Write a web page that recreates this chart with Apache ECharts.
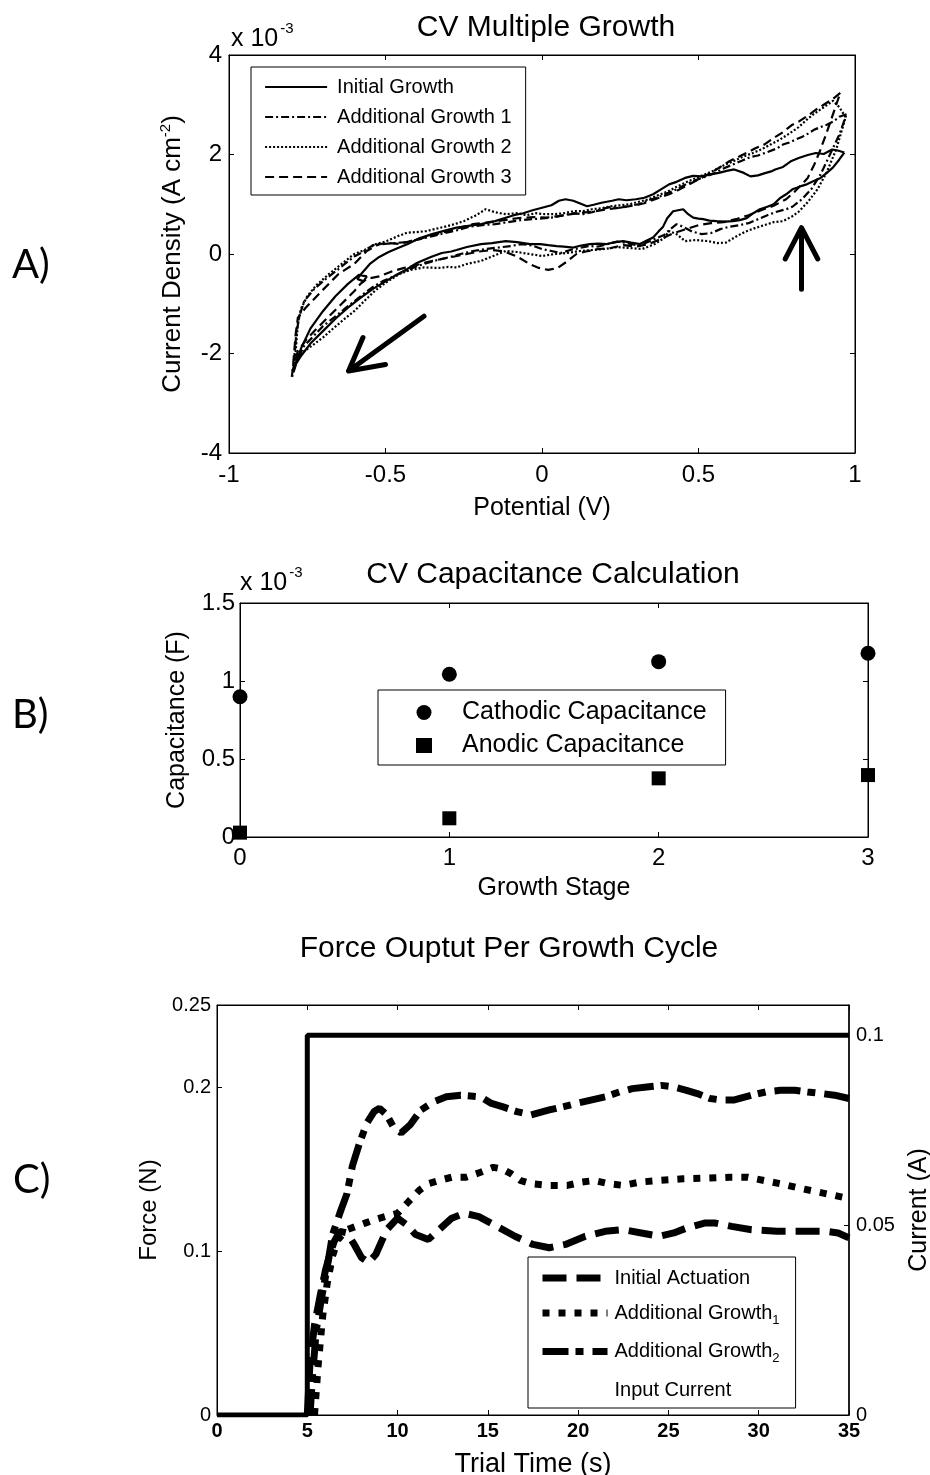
<!DOCTYPE html>
<html><head><meta charset="utf-8">
<script src="https://cdn.jsdelivr.net/npm/echarts@6/dist/echarts.min.js"></script>
<style>html,body{margin:0;padding:0;background:#fff}#c{width:930px;height:1475px}</style>
</head><body><div id="c"></div>
<script>
// ---------- Panel A: CV loops, [potential V, current density x1e-3 A/cm2] ----------
const cvInitialGrowth = [
[0.966,2.04],[0.945,2.08],[0.927,2.10],[0.90,2.01],[0.875,2.03],[0.849,1.99],[0.82,1.93],[0.797,1.87],[0.77,1.75],[0.745,1.70],[0.732,1.66],[0.71,1.62],[0.69,1.58],[0.666,1.56],[0.645,1.63],[0.614,1.70],[0.59,1.67],[0.565,1.63],[0.536,1.60],[0.51,1.56],[0.483,1.57],[0.457,1.53],[0.43,1.45],[0.406,1.40],[0.38,1.30],[0.355,1.20],[0.327,1.13],[0.30,1.10],[0.27,1.08],[0.245,1.10],[0.224,1.07],[0.19,1.03],[0.165,0.99],[0.144,0.96],[0.12,1.02],[0.10,1.07],[0.075,1.10],[0.054,1.07],[0.03,0.98],[0.0,0.93],[-0.03,0.88],[-0.06,0.82],[-0.09,0.78],[-0.116,0.73],[-0.15,0.66],[-0.195,0.60],[-0.23,0.57],[-0.273,0.53],[-0.31,0.47],[-0.351,0.40],[-0.39,0.32],[-0.429,0.20],[-0.46,0.12],[-0.49,0.04],[-0.52,-0.06],[-0.55,-0.20],[-0.575,-0.38],[-0.59,-0.50],[-0.57,-0.55],[-0.56,-0.45],[-0.585,-0.42],[-0.62,-0.60],[-0.66,-0.85],[-0.70,-1.15],[-0.74,-1.50],[-0.77,-1.90],[-0.79,-2.25],
[-0.77,-2.05],[-0.74,-1.80],[-0.70,-1.55],[-0.66,-1.30],[-0.62,-1.08],[-0.58,-0.88],[-0.54,-0.70],[-0.50,-0.55],[-0.46,-0.40],[-0.43,-0.30],[-0.40,-0.18],[-0.37,-0.10],[-0.351,-0.05],[-0.32,0.02],[-0.29,0.05],[-0.273,0.08],[-0.24,0.14],[-0.195,0.20],[-0.16,0.22],[-0.116,0.26],[-0.08,0.24],[-0.038,0.20],[-0.006,0.20],[0.02,0.18],[0.047,0.16],[0.07,0.15],[0.10,0.13],[0.125,0.17],[0.153,0.20],[0.18,0.21],[0.207,0.20],[0.235,0.24],[0.259,0.26],[0.285,0.23],[0.313,0.20],[0.335,0.27],[0.355,0.33],[0.372,0.45],[0.387,0.55],[0.40,0.72],[0.419,0.86],[0.435,0.88],[0.451,0.90],[0.467,0.80],[0.483,0.73],[0.50,0.71],[0.515,0.70],[0.535,0.67],[0.558,0.66],[0.585,0.65],[0.61,0.66],[0.632,0.68],[0.654,0.72],[0.675,0.82],[0.696,0.90],[0.72,0.95],[0.74,1.00],[0.76,1.12],[0.78,1.20],[0.80,1.30],[0.814,1.33],[0.83,1.37],[0.846,1.40],[0.87,1.47],[0.89,1.53],[0.91,1.63],[0.93,1.74],[0.95,1.90],[0.966,2.04]];
const cvAdditional1 = [
[0.973,2.81],[0.95,2.76],[0.93,2.66],[0.91,2.60],[0.89,2.55],[0.87,2.50],[0.85,2.42],[0.83,2.35],[0.81,2.30],[0.79,2.24],[0.77,2.20],[0.75,2.12],[0.72,2.05],[0.69,1.98],[0.666,1.95],[0.64,1.88],[0.61,1.80],[0.58,1.72],[0.55,1.62],[0.52,1.55],[0.49,1.48],[0.46,1.40],[0.43,1.30],[0.40,1.22],[0.37,1.14],[0.34,1.08],[0.31,1.00],[0.28,0.97],[0.25,0.93],[0.22,0.95],[0.19,0.90],[0.16,0.84],[0.13,0.80],[0.10,0.82],[0.07,0.78],[0.04,0.74],[0.01,0.72],[-0.03,0.70],[-0.07,0.68],[-0.11,0.64],[-0.15,0.60],[-0.19,0.58],[-0.23,0.55],[-0.27,0.48],[-0.31,0.42],[-0.35,0.36],[-0.39,0.30],[-0.43,0.24],[-0.47,0.22],[-0.51,0.20],[-0.54,0.18],[-0.57,0.05],[-0.60,-0.05],[-0.63,-0.20],[-0.66,-0.35],[-0.70,-0.55],[-0.73,-0.72],[-0.76,-0.95],[-0.775,-1.25],[-0.785,-1.60],[-0.79,-2.00],[-0.80,-2.50],
[-0.78,-2.10],[-0.76,-1.85],[-0.73,-1.65],[-0.70,-1.45],[-0.665,-1.28],[-0.63,-1.10],[-0.60,-0.95],[-0.57,-0.80],[-0.54,-0.66],[-0.51,-0.55],[-0.47,-0.44],[-0.44,-0.35],[-0.41,-0.27],[-0.377,-0.20],[-0.34,-0.13],[-0.30,-0.07],[-0.26,0.00],[-0.22,0.06],[-0.18,0.10],[-0.14,0.13],[-0.10,0.16],[-0.064,0.20],[-0.03,0.17],[0.0,0.10],[0.03,0.06],[0.06,0.02],[0.09,0.08],[0.12,0.12],[0.15,0.16],[0.18,0.15],[0.21,0.20],[0.24,0.25],[0.27,0.22],[0.30,0.18],[0.33,0.22],[0.36,0.30],[0.39,0.38],[0.41,0.50],[0.43,0.60],[0.45,0.55],[0.48,0.45],[0.51,0.40],[0.54,0.42],[0.57,0.50],[0.60,0.55],[0.63,0.58],[0.66,0.62],[0.69,0.70],[0.72,0.78],[0.75,0.85],[0.78,0.90],[0.80,0.95],[0.83,1.10],[0.86,1.30],[0.89,1.60],[0.92,2.00],[0.95,2.40],[0.973,2.81]];
const cvAdditional2 = [
[0.97,2.75],[0.95,2.95],[0.93,3.08],[0.90,2.95],[0.87,2.82],[0.846,2.70],[0.82,2.55],[0.79,2.42],[0.76,2.30],[0.73,2.20],[0.70,2.10],[0.67,2.02],[0.64,1.95],[0.61,1.86],[0.58,1.78],[0.55,1.68],[0.52,1.60],[0.49,1.52],[0.46,1.44],[0.43,1.35],[0.40,1.25],[0.37,1.18],[0.34,1.10],[0.31,1.05],[0.28,1.00],[0.25,0.98],[0.22,0.96],[0.19,0.92],[0.16,0.90],[0.13,0.86],[0.10,0.86],[0.07,0.82],[0.04,0.80],[0.01,0.80],[-0.02,0.82],[-0.05,0.78],[-0.08,0.82],[-0.116,0.80],[-0.15,0.84],[-0.18,0.90],[-0.21,0.78],[-0.25,0.66],[-0.29,0.58],[-0.33,0.52],[-0.37,0.46],[-0.40,0.44],[-0.43,0.43],[-0.46,0.36],[-0.50,0.25],[-0.53,0.20],[-0.56,0.10],[-0.60,0.00],[-0.64,-0.20],[-0.68,-0.40],[-0.72,-0.62],[-0.75,-0.85],[-0.77,-1.10],[-0.78,-1.40],[-0.785,-1.80],[-0.79,-2.20],
[-0.77,-2.00],[-0.728,-1.81],[-0.70,-1.68],[-0.664,-1.48],[-0.63,-1.30],[-0.60,-1.15],[-0.57,-0.96],[-0.534,-0.74],[-0.50,-0.58],[-0.455,-0.40],[-0.42,-0.32],[-0.377,-0.27],[-0.33,-0.28],[-0.30,-0.26],[-0.273,-0.27],[-0.24,-0.20],[-0.195,-0.14],[-0.16,-0.05],[-0.116,0.06],[-0.08,0.04],[-0.04,0.00],[0.0,-0.04],[0.04,0.00],[0.08,0.02],[0.12,0.06],[0.16,0.08],[0.20,0.10],[0.24,0.14],[0.28,0.12],[0.32,0.10],[0.36,0.20],[0.39,0.32],[0.406,0.46],[0.43,0.40],[0.457,0.26],[0.49,0.28],[0.53,0.26],[0.56,0.22],[0.588,0.23],[0.62,0.35],[0.65,0.45],[0.68,0.52],[0.71,0.58],[0.74,0.64],[0.77,0.66],[0.80,0.76],[0.82,0.85],[0.85,1.05],[0.88,1.30],[0.91,1.65],[0.94,2.10],[0.97,2.75]];
const cvAdditional3 = [
[0.953,3.24],[0.93,3.12],[0.90,3.00],[0.875,2.90],[0.849,2.78],[0.82,2.66],[0.80,2.60],[0.77,2.45],[0.74,2.33],[0.71,2.20],[0.68,2.12],[0.666,2.07],[0.63,1.96],[0.60,1.87],[0.57,1.75],[0.536,1.62],[0.50,1.50],[0.47,1.40],[0.44,1.30],[0.406,1.20],[0.37,1.12],[0.327,1.02],[0.29,0.97],[0.249,0.93],[0.21,0.90],[0.171,0.86],[0.13,0.83],[0.093,0.80],[0.05,0.76],[0.014,0.73],[-0.025,0.74],[-0.064,0.73],[-0.10,0.70],[-0.142,0.66],[-0.18,0.63],[-0.22,0.60],[-0.26,0.53],[-0.298,0.46],[-0.34,0.40],[-0.377,0.33],[-0.42,0.26],[-0.455,0.20],[-0.49,0.22],[-0.52,0.20],[-0.56,0.06],[-0.60,-0.20],[-0.65,-0.40],[-0.703,-0.74],[-0.755,-1.08],[-0.78,-1.28],[-0.787,-1.61],[-0.794,-2.15],[-0.797,-2.35],
[-0.78,-1.95],[-0.75,-1.70],[-0.72,-1.50],[-0.68,-1.25],[-0.64,-1.00],[-0.60,-0.75],[-0.58,-0.60],[-0.56,-0.50],[-0.52,-0.45],[-0.48,-0.35],[-0.44,-0.28],[-0.40,-0.22],[-0.36,-0.15],[-0.32,-0.10],[-0.28,-0.05],[-0.24,0.00],[-0.20,0.05],[-0.16,0.08],[-0.12,0.05],[-0.08,-0.05],[-0.04,-0.20],[-0.01,-0.28],[0.02,-0.32],[0.05,-0.28],[0.08,-0.15],[0.11,0.00],[0.14,0.05],[0.18,0.10],[0.22,0.12],[0.26,0.18],[0.30,0.15],[0.34,0.20],[0.38,0.30],[0.42,0.42],[0.46,0.50],[0.50,0.58],[0.54,0.62],[0.58,0.64],[0.62,0.70],[0.66,0.78],[0.70,0.88],[0.74,0.97],[0.78,1.10],[0.81,1.27],[0.83,1.40],[0.849,1.53],[0.87,1.80],[0.888,2.07],[0.91,2.45],[0.926,2.74],[0.94,3.00],[0.953,3.24]];
// annotation arrows (data coordinates)
const arrowDown = [[-0.377,-1.25],[-0.618,-2.35],null,[-0.572,-1.68],[-0.618,-2.35],[-0.50,-2.22]];
const arrowUp = [[0.829,-0.71],[0.829,0.53],null,[0.777,-0.10],[0.829,0.53],[0.881,-0.10]];

// ---------- Panel B: capacitance (x1e-3 F) ----------
const growthStages = [0, 1, 2, 3];
const cathodicCap = [0.899, 1.043, 1.124, 1.178];
const anodicCap = [0.028, 0.120, 0.376, 0.397];

// ---------- Panel C: force (N) vs time (s) ----------
const initialActuation = [[5.0,0],[5.15,0.032],[5.4,0.055],[5.7,0.072],[6.0,0.088],[6.25,0.098],[6.5,0.106],[6.8,0.112],[7.2,0.111],[7.6,0.104],[8.0,0.096],[8.4,0.093],[8.8,0.098],[9.4,0.113],[10.0,0.120],[10.5,0.116],[11.0,0.110],[11.7,0.107],[12.3,0.113],[13.0,0.120],[13.7,0.123],[14.5,0.121],[15.5,0.115],[16.5,0.109],[17.5,0.104],[18.4,0.102],[19.3,0.104],[20.4,0.109],[21.5,0.112],[22.5,0.113],[23.5,0.111],[24.5,0.109],[25.3,0.111],[26.0,0.114],[27.0,0.117],[27.6,0.117],[28.5,0.115],[29.6,0.113],[31.0,0.112],[32.5,0.112],[33.7,0.112],[34.4,0.111],[35.0,0.108]];
const additionalGrowth1 = [[5.4,0],[5.6,0.03],[5.85,0.06],[6.1,0.08],[6.4,0.097],[6.7,0.107],[7.2,0.113],[7.7,0.115],[8.2,0.117],[8.7,0.119],[9.3,0.121],[10.0,0.123],[10.6,0.130],[11.2,0.137],[11.7,0.141],[12.3,0.143],[13.0,0.145],[13.8,0.145],[14.6,0.148],[15.3,0.151],[15.8,0.150],[16.3,0.147],[16.8,0.143],[17.4,0.141],[18.4,0.140],[19.4,0.140],[20.2,0.142],[20.9,0.143],[21.7,0.141],[22.5,0.140],[23.4,0.142],[24.5,0.143],[25.8,0.144],[27.3,0.1445],[28.4,0.145],[29.4,0.145],[30.3,0.143],[31.2,0.141],[32.4,0.138],[33.7,0.135],[35.0,0.132]];
const additionalGrowth2 = [[5.15,0],[5.3,0.025],[5.5,0.052],[5.8,0.072],[6.07,0.088],[6.4,0.110],[6.8,0.123],[7.2,0.135],[7.5,0.152],[7.9,0.166],[8.3,0.178],[8.7,0.185],[9.0,0.187],[9.4,0.183],[9.8,0.175],[10.2,0.172],[10.7,0.177],[11.3,0.186],[12.0,0.191],[12.7,0.194],[13.5,0.195],[14.6,0.194],[15.2,0.190],[15.8,0.188],[16.6,0.185],[17.4,0.183],[18.4,0.186],[19.2,0.188],[19.9,0.190],[20.7,0.192],[21.5,0.194],[22.3,0.197],[23.0,0.199],[23.8,0.200],[24.6,0.201],[25.3,0.200],[26.0,0.198],[26.6,0.196],[27.3,0.193],[28.0,0.192],[28.6,0.192],[29.6,0.195],[30.4,0.197],[31.2,0.198],[32.0,0.198],[32.7,0.197],[33.5,0.196],[34.2,0.195],[35.0,0.193]];
const currentTime = [0, 5, 5, 35];
const currentAmps = [0, 0, 0.1, 0.1];

// tick label sets
const forceTicks = [0, 0.1, 0.2, 0.25];
const currentTicks = [0, 0.05, 0.1];

const FONT = '"Liberation Sans", Arial, Helvetica, sans-serif';
const chart = echarts.init(document.getElementById('c'), null, {renderer: 'canvas'});

function fmt(v){ return String(Math.round(v*1000)/1000); }
function mainX(grid, min, max, interval, size, margin, name, nameGap, bold, nameSize){
  return {gridIndex: grid, type:'value', position:'bottom', min, max, interval,
    axisLine:{show:true, onZero:false, lineStyle:{color:'#000', width:1}},
    axisTick:{show:true, inside:true, length:5, lineStyle:{color:'#000'}},
    splitLine:{show:false},
    axisLabel:{color:'#000', fontSize:size, fontFamily:FONT, margin, fontWeight: bold?'bold':'normal', formatter: fmt},
    name, nameLocation:'middle', nameGap, nameTextStyle:{color:'#000', fontSize:nameSize, fontFamily:FONT}};
}
function mirrorX(grid, min, max, interval){
  return {gridIndex:grid, type:'value', position:'top', min, max, interval,
    axisLine:{show:true, onZero:false, lineStyle:{color:'#000', width:1}},
    axisTick:{show:true, inside:true, length:5, lineStyle:{color:'#000'}},
    axisLabel:{show:false}, splitLine:{show:false}};
}
function mirrorY(grid, min, max, interval){
  return {gridIndex:grid, type:'value', position:'right', min, max, interval,
    axisLine:{show:true, onZero:false, lineStyle:{color:'#000', width:1}},
    axisTick:{show:true, inside:true, length:5, lineStyle:{color:'#000'}},
    axisLabel:{show:false}, splitLine:{show:false}};
}

const supRich = {
  n:{fontSize:26, fontFamily:FONT, color:'#000'},
  s:{fontSize:15, fontFamily:FONT, color:'#000', verticalAlign:'bottom', padding:[0,0,15,0]}
};
const titleStyle = {fontSize:30, fontWeight:'normal', color:'#000', fontFamily:FONT};
const gridBase = {show:true, borderColor:'#000', borderWidth:1, backgroundColor:'transparent', outerBoundsMode:'none', containLabel:false};

const option = {
  backgroundColor:'#fff',
  animation:false,
  textStyle:{fontFamily:FONT},
  title:[
    {text:'CV Multiple Growth', left:541, top:8, textAlign:'center', textStyle:titleStyle},
    {text:'CV Capacitance Calculation', left:548, top:555, textAlign:'center', textStyle:titleStyle},
    {text:'Force Ouptut Per Growth Cycle', left:504, top:929, textAlign:'center', textStyle:titleStyle}
  ],
  grid:[
    Object.assign({left:229, top:55, width:626, height:398}, gridBase),
    Object.assign({left:240, top:603, width:628, height:234}, gridBase),
    Object.assign({left:217, top:1005, width:632, height:410}, gridBase)
  ],
  xAxis:[
    mainX(0, -1, 1, 0.5, 24, 10, 'Potential (V)', 43, false, 25),
    mirrorX(0, -1, 1, 0.5),
    mainX(1, 0, 3, 1, 24, 9, 'Growth Stage', 39, false, 25),
    mirrorX(1, 0, 3, 1),
    mainX(2, 0, 35, 5, 20, 6, 'Trial Time (s)', 36, true, 27),
    mirrorX(2, 0, 35, 5)
  ],
  yAxis:[
    {gridIndex:0, type:'value', min:-4, max:4, interval:2,
      axisLine:{show:true, onZero:false, lineStyle:{color:'#000'}},
      axisTick:{show:true, inside:true, length:5, lineStyle:{color:'#000'}},
      splitLine:{show:false},
      axisLabel:{color:'#000', fontSize:24, fontFamily:FONT, margin:7},
      name:'{n|Current Density (A cm}{s|-2}{n|)}', nameLocation:'middle', nameGap:41,
      nameTextStyle:{rich:supRich}},
    mirrorY(0, -4, 4, 2),
    {gridIndex:1, type:'value', min:0, max:1.5, interval:0.5,
      axisLine:{show:true, onZero:false, lineStyle:{color:'#000'}},
      axisTick:{show:true, inside:true, length:5, lineStyle:{color:'#000'}},
      splitLine:{show:false},
      axisLabel:{color:'#000', fontSize:24, fontFamily:FONT, margin:5, formatter: fmt},
      name:'Capacitance (F)', nameLocation:'middle', nameGap:50,
      nameTextStyle:{color:'#000', fontSize:25, fontFamily:FONT}},
    mirrorY(1, 0, 1.5, 0.5),
    {gridIndex:2, type:'value', min:0, max:0.25,
      axisLine:{show:true, onZero:false, lineStyle:{color:'#000'}},
      axisTick:{show:true, inside:true, length:5, lineStyle:{color:'#000'}, customValues: forceTicks},
      splitLine:{show:false},
      axisLabel:{color:'#000', fontSize:20, fontFamily:FONT, margin:6, customValues: forceTicks, formatter: fmt},
      name:'Force (N)', nameLocation:'middle', nameGap:30,
      nameTextStyle:{color:'#000', fontSize:24, fontFamily:FONT}},
    {gridIndex:2, type:'value', position:'right', min:0, max:0.108,
      axisLine:{show:true, onZero:false, lineStyle:{color:'#000', width:1.5}},
      axisTick:{show:true, inside:true, length:5, lineStyle:{color:'#000'}, customValues: currentTicks},
      splitLine:{show:false},
      axisLabel:{color:'#000', fontSize:20, fontFamily:FONT, margin:7, customValues: currentTicks, formatter: fmt},
      name:'Current (A)', nameLocation:'middle', nameGap:58,
      nameTextStyle:{color:'#000', fontSize:25, fontFamily:FONT}}
  ],
  legend:[
    {left:251, top:67, orient:'vertical', itemWidth:62, itemHeight:12, itemGap:10,
      padding:[10,14,8,13], borderColor:'#000', borderWidth:1, backgroundColor:'#fff',
      selectedMode:false,
      itemStyle:{opacity:0}, lineStyle:{width:'inherit'},
      textStyle:{fontSize:20, color:'#000', fontFamily:FONT, padding:[0,0,0,5]},
      data:['Initial Growth','Additional Growth 1','Additional Growth 2','Additional Growth 3']},
    {left:378, top:690, orient:'vertical', itemWidth:16, itemHeight:15, itemGap:8,
      padding:[10,19,7,38], borderColor:'#000', borderWidth:1, backgroundColor:'#fff',
      selectedMode:false,
      textStyle:{fontSize:25, color:'#000', fontFamily:FONT, padding:[0,0,0,25]},
      data:['Cathodic Capacitance','Anodic Capacitance']},
    {left:528, top:1257, orient:'vertical', itemWidth:65, itemHeight:14, itemGap:15,
      padding:[11,16,8,11], borderColor:'#000', borderWidth:1, backgroundColor:'#fff',
      selectedMode:false,
      itemStyle:{opacity:0}, lineStyle:{width:'inherit'},
      formatter: function(n){ return n.replace(/_(\d)/, '{sub|$1}'); },
      textStyle:{fontSize:20, color:'#000', fontFamily:FONT, padding:[0,0,0,2],
        rich:{sub:{fontSize:13, color:'#000', fontFamily:FONT, verticalAlign:'top', padding:[14,0,0,0]}}},
      data:['Initial Actuation','Additional Growth_1','Additional Growth_2',
        {name:'Input Current', lineStyle:{opacity:0}, itemStyle:{opacity:0}}]}
  ],
  graphic:[
    {type:'text', left:12, top:245, style:{text:'A)', font:'40px Lato, "Open Sans", sans-serif', fill:'#000'}},
    {type:'text', left:12, top:695, style:{text:'B)', font:'40px Lato, "Open Sans", sans-serif', fill:'#000'}},
    {type:'text', left:13, top:1160, style:{text:'C)', font:'40px Lato, "Open Sans", sans-serif', fill:'#000'}},
    {type:'text', left:231, top:21, style:{text:'{a|x 10}{b|-3}', rich:{
      a:{fontSize:25, fontFamily:FONT, fill:'#000', verticalAlign:'bottom'},
      b:{fontSize:15, fontFamily:FONT, fill:'#000', verticalAlign:'bottom', padding:[0,0,16,2]}}}},
    {type:'text', left:240, top:565, style:{text:'{a|x 10}{b|-3}', rich:{
      a:{fontSize:25, fontFamily:FONT, fill:'#000', verticalAlign:'bottom'},
      b:{fontSize:15, fontFamily:FONT, fill:'#000', verticalAlign:'bottom', padding:[0,0,16,2]}}}}
  ],
  series:[
    {name:'Initial Growth', type:'line', xAxisIndex:0, yAxisIndex:0, data:cvInitialGrowth, symbol:'none',
      lineStyle:{color:'#000', width:2.2, type:'solid'}, itemStyle:{color:'#000'}},
    {name:'Additional Growth 1', type:'line', xAxisIndex:0, yAxisIndex:0, data:cvAdditional1, symbol:'none',
      lineStyle:{color:'#000', width:2.2, type:[8,3,2,3]}, itemStyle:{color:'#000'}},
    {name:'Additional Growth 2', type:'line', xAxisIndex:0, yAxisIndex:0, data:cvAdditional2, symbol:'none',
      lineStyle:{color:'#000', width:2.2, type:[2,2]}, itemStyle:{color:'#000'}},
    {name:'Additional Growth 3', type:'line', xAxisIndex:0, yAxisIndex:0, data:cvAdditional3, symbol:'none',
      lineStyle:{color:'#000', width:2.2, type:[9,5]}, itemStyle:{color:'#000'}},
    {name:'arrowDown', type:'line', xAxisIndex:0, yAxisIndex:0, data:arrowDown, symbol:'none', connectNulls:false,
      lineStyle:{color:'#000', width:5, cap:'round', join:'round'}, silent:true},
    {name:'arrowUp', type:'line', xAxisIndex:0, yAxisIndex:0, data:arrowUp, symbol:'none', connectNulls:false,
      lineStyle:{color:'#000', width:5, cap:'round', join:'round'}, silent:true},

    {name:'Cathodic Capacitance', type:'scatter', xAxisIndex:2, yAxisIndex:2,
      data: growthStages.map((g,i)=>[g, cathodicCap[i]]), symbol:'circle', symbolSize:15, itemStyle:{color:'#000', opacity:1}},
    {name:'Anodic Capacitance', type:'scatter', xAxisIndex:2, yAxisIndex:2,
      data: growthStages.map((g,i)=>[g, anodicCap[i]]), symbol:'rect', symbolSize:14, itemStyle:{color:'#000', opacity:1}},

    {name:'Input Current', type:'line', xAxisIndex:4, yAxisIndex:5,
      data: currentTime.map((t,i)=>[t, currentAmps[i]]), symbol:'none',
      lineStyle:{color:'#000', width:5, type:'solid'}, itemStyle:{color:'#000'}, z:1},
    {name:'Initial Actuation', type:'line', xAxisIndex:4, yAxisIndex:4, data:initialActuation, symbol:'none',
      lineStyle:{color:'#000', width:7, type:[24,10], cap:'butt'}, itemStyle:{color:'#000'}},
    {name:'Additional Growth_1', type:'line', xAxisIndex:4, yAxisIndex:4, data:additionalGrowth1, symbol:'none',
      lineStyle:{color:'#000', width:7, type:[7,9], cap:'butt'}, itemStyle:{color:'#000'}},
    {name:'Additional Growth_2', type:'line', xAxisIndex:4, yAxisIndex:4, data:additionalGrowth2, symbol:'none',
      lineStyle:{color:'#000', width:7, type:[26,7,8,9], cap:'butt'}, itemStyle:{color:'#000'}}
  ]
};
chart.setOption(option);
</script></body></html>
